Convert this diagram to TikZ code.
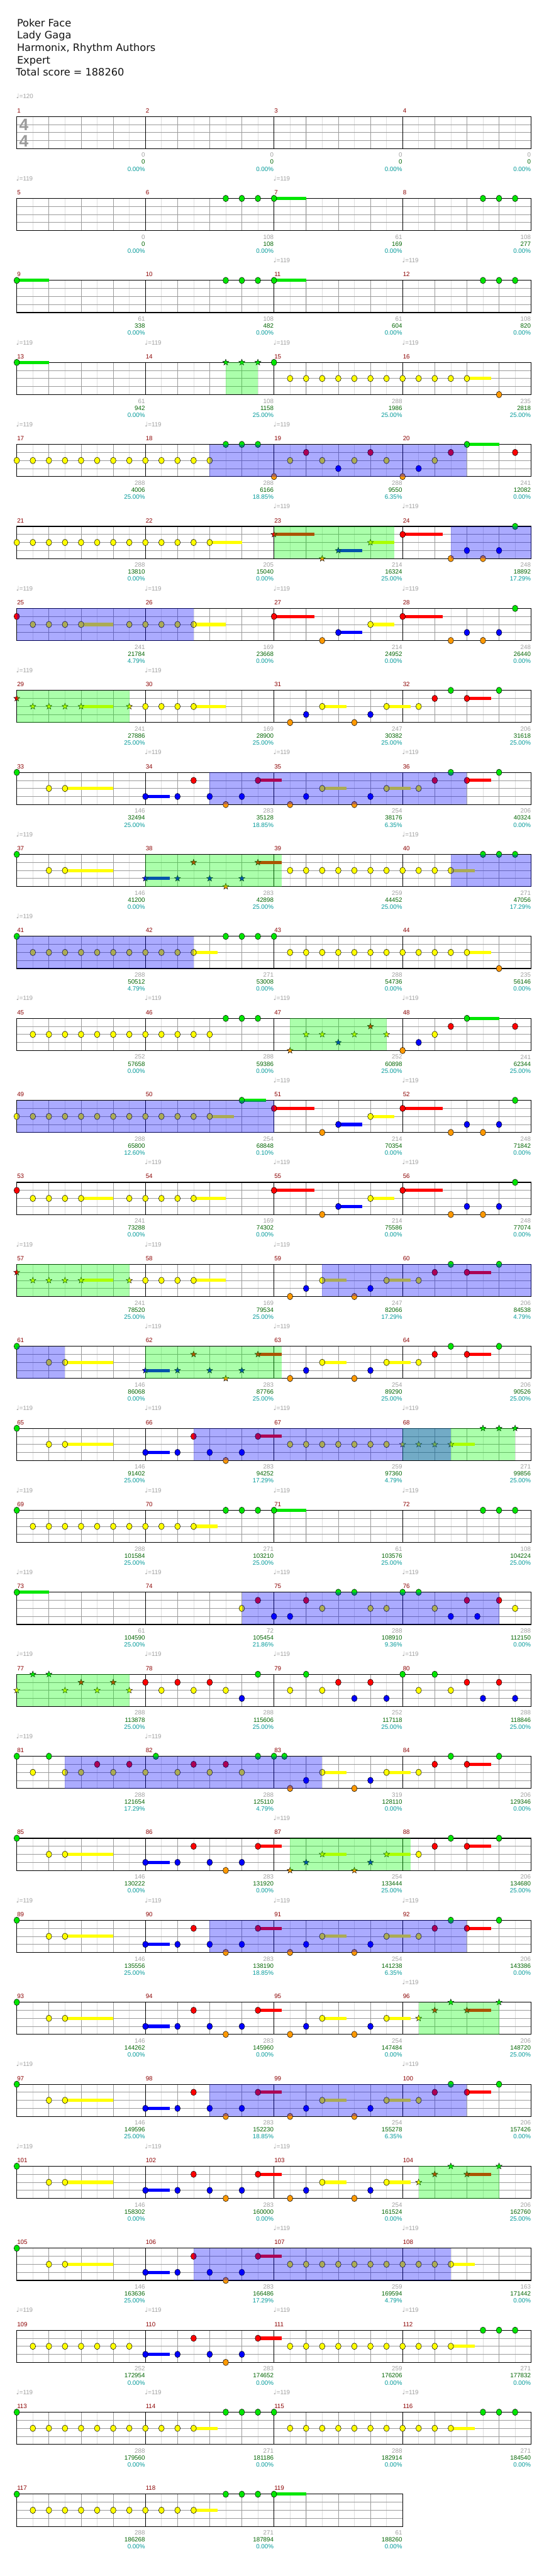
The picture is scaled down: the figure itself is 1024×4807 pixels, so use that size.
\documentclass[tikz,border=0pt]{standalone}
\usepackage{fontspec}
\setmainfont{DejaVu Sans}
\newfontfamily\sofont{Liberation Sans}
\usetikzlibrary{shapes.geometric}

% mau phim
\definecolor{gG}{RGB}{0,230,0}
\definecolor{gR}{RGB}{255,0,0}
\definecolor{gY}{RGB}{255,255,0}
\definecolor{gB}{RGB}{0,0,255}
\definecolor{gO}{RGB}{255,153,0}
\definecolor{luoinhat}{RGB}{222,222,222}
\definecolor{luoixam}{RGB}{155,155,155}
\definecolor{sonhipmau}{RGB}{139,0,0}
\definecolor{diemxam}{RGB}{160,160,160}
\definecolor{diemxanh}{RGB}{0,100,0}
\definecolor{phantram}{RGB}{0,153,153}
\definecolor{chuden}{RGB}{20,20,20}

\tikzset{
  gem/.style={draw=black, line width=0.6pt},
  sao/.style={star, star points=5, star point ratio=2.4, draw=black, line width=0.5pt, minimum size=12pt, inner sep=0pt},
  luoi8/.style={draw=luoinhat, line width=0.7pt},
  luoi4/.style={draw=luoixam, line width=0.9pt},
  vach/.style={draw=black, line width=0.7pt},
  vien/.style={draw=black, line width=1.3pt},
  chunho/.style={font=\sofont\fontsize{11.5}{12}\selectfont, inner sep=0pt},
  tieude/.style={font=\fontsize{19}{23}\selectfont, text=chuden, inner sep=0pt, anchor=base west},
}

% khuong nhac: #1 so o nhip, #2 so nhip dau
\newcommand{\khuong}[2]{%
  \pgfmathtruncatemacro\sotam{8*#1-1}
  \foreach \i in {1,...,\sotam} {\draw[luoi8] (30*\i,0) -- (30*\i,60);}
  \pgfmathtruncatemacro\sophach{4*#1-1}
  \foreach \i in {1,...,\sophach} {\draw[luoi4] (60*\i,0) -- (60*\i,60);}
  \foreach \l in {1,2,3} {\draw[luoi4] (0,15*\l) -- (240*#1,15*\l);}
  \pgfmathtruncatemacro\sovach{#1-1}
  \foreach \i in {1,...,\sovach} {\draw[vach] (240*\i,0) -- (240*\i,60);}
  \draw[vien] (0,0) rectangle (240*#1,60);
  \foreach \j in {1,...,#1} {
    \pgfmathtruncatemacro\so{#2+\j-1}
    \node[chunho, text=sonhipmau, anchor=west] (m\so) at ({240*(\j-1)+0.5},-11) {\so};
  }
}
% diem tung o nhip
\newcommand{\diem}[1]{%
  \foreach \j/\sa/\sb/\sc in {#1} {
    \node[chunho, text=diemxam, anchor=east] (d\j) at ({240*(\j+1)-0.5},72) {\sa};
    \node[chunho, text=diemxanh, anchor=east] (t\j) at ({240*(\j+1)-0.5},85) {\sb};
    \node[chunho, text=phantram, anchor=east] (p\j) at ({240*(\j+1)-0.5},98) {\sc\%};
  }
}
% toc do
\newcommand{\nhip}[2]{%
  \foreach \j in {#1} {
    \node[chunho, text=diemxam, anchor=west] (n\j) at ({240*\j-1},-37.5) {{\fontsize{12}{12}\selectfont\rmfamily ♩}=#2};
  }
}
% not, ngan keo, sao
\newcommand{\gem}[3]{\foreach \p in {#3} {\draw[gem, fill=#2] ({30*\p},{15*#1}) ellipse (5.2 and 6);}}
\newcommand{\keo}[3]{\foreach \sa/\sb in {#3} {\fill[#2] ({30*\sa},{15*#1-3}) rectangle ({30*\sb},{15*#1+3});}}
\newcommand{\saos}[3]{\foreach \p in {#3} {\node[sao, fill=#2] at ({30*\p},{15*#1}) {};}}
\newcommand{\nutG}[1]{\gem{0}{gG}{#1}}
\newcommand{\nutR}[1]{\gem{1}{gR}{#1}}
\newcommand{\nutY}[1]{\gem{2}{gY}{#1}}
\newcommand{\nutB}[1]{\gem{3}{gB}{#1}}
\newcommand{\nutO}[1]{\gem{4}{gO}{#1}}
\newcommand{\keoG}[1]{\keo{0}{gG}{#1}}
\newcommand{\keoR}[1]{\keo{1}{gR}{#1}}
\newcommand{\keoY}[1]{\keo{2}{gY}{#1}}
\newcommand{\keoB}[1]{\keo{3}{gB}{#1}}
\newcommand{\saoG}[1]{\saos{0}{gG}{#1}}
\newcommand{\saoR}[1]{\saos{1}{gR}{#1}}
\newcommand{\saoY}[1]{\saos{2}{gY}{#1}}
\newcommand{\saoB}[1]{\saos{3}{gB}{#1}}
\newcommand{\saoO}[1]{\saos{4}{gO}{#1}}
% vung star power (xanh duong) va overdrive (xanh la)
\newcommand{\vungSP}[2]{\fill[gB, opacity=0.33] ({30*#1},0) rectangle ({30*#2},60);}
\newcommand{\vungOD}[2]{\fill[green, opacity=0.33] ({30*#1},0) rectangle ({30*#2},60);}
% cac doan lap lai
\newcommand{\riffA}{\keoY{3/6}\nutG{0}\nutY{2,3}}
\newcommand{\riffM}{\keoB{8/9.5}\keoR{15/16.5}\nutB{8,10,12,14}\nutR{11,15}\nutO{13}}
\newcommand{\riffMsao}{\keoB{8/9.5}\keoR{15/16.5}\saoB{8,10,12,14}\saoR{11,15}\saoO{13}}
\newcommand{\riffB}{\keoY{19/20.5,23/24.5}\keoR{28/29.5}\nutO{17,21}\nutB{18,22}\nutY{19,23,25}\nutR{26,28}\nutG{27,30}}
\newcommand{\riffC}{\keoY{19/20.5,23/24.5}\keoR{28/29.5}\nutO{17,21}\nutB{18,22}\nutY{19,23}\saoY{25}\saoR{26,28}\saoG{27,30}}
\newcommand{\riffD}{\keoY{4/6,11/13}\nutR{0}\nutY{1,2,3,4,7,8,9,10,11}}
\newcommand{\riffE}{\keoR{16/18.5,24/26.5}\keoB{20/21.5}\keoY{22/23.5}\nutR{16,24}\nutO{19,27,29}\nutB{20,28,30}\nutY{22}\nutG{31}}
\newcommand{\riffF}{\keoY{4/6,11/13}\saoR{0}\saoY{1,2,3,4,7}\nutY{8,9,10,11}}
\newcommand{\riffY}{\keoY{27/28.5}\nutY{17,...,27}}

\begin{document}
\begin{tikzpicture}[x=1pt, y=-1pt]
\path[use as bounding box, fill=white] (0,0) rectangle (1024,4807);
% tieu de
\node[tieude] (ten) at (31.5,49.3) {Poker Face};
\node[tieude] (casi) at (31.5,72.4) {Lady Gaga};
\node[tieude] (tacgia) at (31.5,95.5) {Harmonix, Rhythm Authors};
\node[tieude] (capdo) at (31.5,118.6) {Expert};
\node[tieude] (tong) at (29.5,141.7) {Total score = 188260};

% hang 1
\begin{scope}[shift={(31.3,217.3)}]
\khuong{4}{1}
\node[font=\sofont\bfseries\fontsize{31}{31}\selectfont, text=luoixam, inner sep=0pt] (tu) at (13.2,16) {4};
\node[font=\sofont\bfseries\fontsize{31}{31}\selectfont, text=luoixam, inner sep=0pt] (mau) at (13.2,46) {4};
\nhip{0}{120}
\diem{0/0/0/0.00, 1/0/0/0.00, 2/0/0/0.00, 3/0/0/0.00}
\end{scope}
% hang 2
\begin{scope}[shift={(31.3,{217.3+153*1})}]
\khuong{4}{5}
\keoG{16/18}\nutG{13,14,15,16,29,30,31}
\nhip{0,2}{119}
\diem{0/0/0/0.00, 1/108/108/0.00, 2/61/169/0.00, 3/108/277/0.00}
\end{scope}
% hang 3
\begin{scope}[shift={(31.3,{217.3+153*2})}]
\khuong{4}{9}
\keoG{0/2,16/18}\nutG{0,13,14,15,16,29,30,31}
\nhip{2,3}{119}
\diem{0/61/338/0.00, 1/108/482/0.00, 2/61/604/0.00, 3/108/820/0.00}
\end{scope}
% hang 4
\begin{scope}[shift={(31.3,{217.3+153*3})}]
\khuong{4}{13}
\keoG{0/2}\keoY{28/29.5}
\nutG{0,16}\saoG{13,14,15}\nutY{17,...,28}\nutO{30}
\vungOD{13}{15}
\nhip{0,1,2,3}{119}
\diem{0/61/942/0.00, 1/108/1158/25.00, 2/288/1986/25.00, 3/235/2818/25.00}
\end{scope}
% hang 5
\begin{scope}[shift={(31.3,{217.3+153*4})}]
\khuong{4}{17}
\keoG{28/30}
\nutY{0,...,12}\nutG{13,14,15,28}\nutO{16,24}\nutY{17,19,21,23,26}\nutR{18,22,27,31}\nutB{20,25}
\vungSP{12}{28}
\nhip{0,1,2}{119}
\diem{0/288/4006/25.00, 1/288/6166/18.85, 2/288/9550/6.35, 3/241/12082/0.00}
\end{scope}
% hang 6
\begin{scope}[shift={(31.3,{217.3+153*5})}]
\khuong{4}{21}
\keoY{12/14,22/23.5}\keoR{16/18.5,24/26.5}\keoB{20/21.5}
\nutY{0,...,12}\saoR{16}\saoO{19}\saoB{20}\saoY{22}
\nutR{24}\nutO{27,29}\nutB{28,30}\nutG{31}
\vungOD{16}{23.5}\vungSP{27}{32}
\nhip{2,3}{119}
\diem{0/288/13810/0.00, 1/205/15040/0.00, 2/214/16324/25.00, 3/248/18892/17.29}
\end{scope}
% hang 7
\begin{scope}[shift={(31.3,{217.3+153*6})}]
\khuong{4}{25}
\riffD\riffE
\vungSP{0}{11}
\nhip{0,1,2,3}{119}
\diem{0/241/21784/4.79, 1/169/23668/0.00, 2/214/24952/0.00, 3/248/26440/0.00}
\end{scope}
% hang 8
\begin{scope}[shift={(31.3,{217.3+153*7})}]
\khuong{4}{29}
\riffF\riffB
\vungOD{0}{7}
\nhip{0,1}{119}
\diem{0/241/27886/25.00, 1/169/28900/25.00, 2/247/30382/25.00, 3/206/31618/25.00}
\end{scope}
% hang 9
\begin{scope}[shift={(31.3,{217.3+153*8})}]
\khuong{4}{33}
\riffA\riffM\riffB
\vungSP{12}{28}
\nhip{1,2,3}{119}
\diem{0/146/32494/25.00, 1/283/35128/18.85, 2/254/38176/6.35, 3/206/40324/0.00}
\end{scope}
% hang 10
\begin{scope}[shift={(31.3,{217.3+153*9})}]
\khuong{4}{37}
\riffA\riffMsao\riffY\nutG{29,30,31}
\vungOD{8}{16.5}\vungSP{27}{32}
\nhip{0,3}{119}
\diem{0/146/41200/0.00, 1/283/42898/25.00, 2/259/44452/25.00, 3/271/47056/17.29}
\end{scope}
% hang 11
\begin{scope}[shift={(31.3,{217.3+153*10})}]
\khuong{4}{41}
\keoY{11/12.5,28/29.5}
\nutG{0,13,14,15,16}\nutY{1,...,11}\nutY{17,...,28}\nutO{30}
\vungSP{0}{11}
\nhip{0}{119}
\diem{0/288/50512/4.79, 1/271/53008/0.00, 2/288/54736/0.00, 3/235/56146/0.00}
\end{scope}
% hang 12
\begin{scope}[shift={(31.3,{217.3+153*11})}]
\khuong{4}{45}
\keoG{28/30}
\nutY{1,...,12}\nutG{13,14,15}
\saoO{17}\saoY{18,19,21,23}\saoB{20}\saoR{22}
\nutO{24}\nutB{25}\nutY{26}\nutR{27,31}\nutG{28}
\vungOD{17}{23}
\nhip{0,1,2,3}{119}
\diem{0/252/57658/0.00, 1/288/59386/0.00, 2/252/60898/25.00, 3/241/62344/25.00}
\end{scope}
% hang 13
\begin{scope}[shift={(31.3,{217.3+153*12})}]
\khuong{4}{49}
\keoY{12/13.5}\keoG{14/15.5}
\nutY{0,...,12}\nutG{14}\riffE
\vungSP{0}{16}
\nhip{2,3}{119}
\diem{0/288/65800/12.60, 1/254/68848/0.10, 2/214/70354/0.00, 3/248/71842/0.00}
\end{scope}
% hang 14
\begin{scope}[shift={(31.3,{217.3+153*13})}]
\khuong{4}{53}
\riffD\riffE
\nhip{1,2,3}{119}
\diem{0/241/73288/0.00, 1/169/74302/0.00, 2/214/75586/0.00, 3/248/77074/0.00}
\end{scope}
% hang 15
\begin{scope}[shift={(31.3,{217.3+153*14})}]
\khuong{4}{57}
\riffF\riffB
\vungOD{0}{7}\vungSP{19}{32}
\nhip{0,1,2}{119}
\diem{0/241/78520/25.00, 1/169/79534/25.00, 2/247/82066/17.29, 3/206/84538/4.79}
\end{scope}
% hang 16
\begin{scope}[shift={(31.3,{217.3+153*15})}]
\khuong{4}{61}
\riffA\riffMsao\riffB
\vungSP{0}{3}\vungOD{8}{16.5}
\nhip{1,2}{119}
\diem{0/146/86068/0.00, 1/283/87766/25.00, 2/254/89290/25.00, 3/206/90526/25.00}
\end{scope}
% hang 17
\begin{scope}[shift={(31.3,{217.3+153*16})}]
\khuong{4}{65}
\riffA\riffM
\keoY{27/28.5}\nutY{17,...,23}\saoY{24,25,26,27}\saoG{29,30,31}
\vungOD{24}{31}\vungSP{11}{27}
\nhip{0,1,2,3}{119}
\diem{0/146/91402/25.00, 1/283/94252/17.29, 2/259/97360/4.79, 3/271/99856/25.00}
\end{scope}
% hang 18
\begin{scope}[shift={(31.3,{217.3+153*17})}]
\khuong{4}{69}
\keoY{11/12.5}\keoG{16/18}
\nutG{0,13,14,15,16,29,30,31}\nutY{1,...,11}
\nhip{0,1,2,3}{119}
\diem{0/288/101584/25.00, 1/271/103210/25.00, 2/61/103576/25.00, 3/108/104224/25.00}
\end{scope}
% hang 19
\begin{scope}[shift={(31.3,{217.3+153*18})}]
\khuong{4}{73}
\keoG{0/2}
\nutG{0,20,21,24,25}\nutY{14,19,22,23,26,31}\nutR{15,18,28,30}\nutB{16,17,27,28.65}
\vungSP{14}{30}
\nhip{0,1,2,3}{119}
\diem{0/61/104590/25.00, 1/72/105454/21.86, 2/288/108910/9.36, 3/288/112150/0.00}
\end{scope}
% hang 20
\begin{scope}[shift={(31.3,{217.3+153*19})}]
\khuong{4}{77}
\saoG{1,2}\saoR{4,6}\saoY{0,3,5,7}
\nutR{8,10,12,20,22,28,30}\nutY{9,11,13,17,19,25,27}\nutB{14,21,23,29,31}\nutG{15,18,24,26}
\vungOD{0}{7}
\nhip{0,1,2,3}{119}
\diem{0/288/113878/25.00, 1/288/115606/25.00, 2/252/117118/25.00, 3/288/118846/25.00}
\end{scope}
% hang 21
\begin{scope}[shift={(31.3,{217.3+153*20})}]
\khuong{4}{81}
\nutG{0,2,8.65,15,16,16.65}\nutY{1,3,4,6,8,10,12,14}\nutR{5,7,11,13}\riffB
\vungSP{3}{19}
\nhip{0,1}{119}
\diem{0/288/121654/17.29, 1/288/125110/4.79, 2/319/128110/0.00, 3/206/129346/0.00}
\end{scope}
% hang 22
\begin{scope}[shift={(31.3,{217.3+153*21})}]
\khuong{4}{85}
\riffA\riffM
\keoY{19/20.5,23/24.5}\keoR{28/29.5}
\saoO{17,21}\saoB{18,22}\saoY{19,23}\nutY{25}\nutR{26,28}\nutG{27,30}
\vungOD{17}{24.5}
\nhip{2}{119}
\diem{0/146/130222/0.00, 1/283/131920/0.00, 2/254/133444/25.00, 3/206/134680/25.00}
\end{scope}
% hang 23
\begin{scope}[shift={(31.3,{217.3+153*22})}]
\khuong{4}{89}
\riffA\riffM\riffB
\vungSP{12}{28}
\nhip{0,1,2,3}{119}
\diem{0/146/135556/25.00, 1/283/138190/18.85, 2/254/141238/6.35, 3/206/143386/0.00}
\end{scope}
% hang 24
\begin{scope}[shift={(31.3,{217.3+153*23})}]
\khuong{4}{93}
\riffA\riffM\riffC
\vungOD{25}{30}
\nhip{3}{119}
\diem{0/146/144262/0.00, 1/283/145960/0.00, 2/254/147484/0.00, 3/206/148720/25.00}
\end{scope}
% hang 25
\begin{scope}[shift={(31.3,{217.3+153*24})}]
\khuong{4}{97}
\riffA\riffM\riffB
\vungSP{12}{28}
\nhip{0,3}{119}
\diem{0/146/149596/25.00, 1/283/152230/18.85, 2/254/155278/6.35, 3/206/157426/0.00}
\end{scope}
% hang 26
\begin{scope}[shift={(31.3,{217.3+153*25})}]
\khuong{4}{101}
\riffA\riffM\riffC
\vungOD{25}{30}
\nhip{0,1,2}{119}
\diem{0/146/158302/0.00, 1/283/160000/0.00, 2/254/161524/0.00, 3/206/162760/25.00}
\end{scope}
% hang 27
\begin{scope}[shift={(31.3,{217.3+153*26})}]
\khuong{4}{105}
\riffA\riffM\riffY
\vungSP{11}{27}
\nhip{2,3}{119}
\diem{0/146/163636/25.00, 1/283/166486/17.29, 2/259/169594/4.79, 3/163/171442/0.00}
\end{scope}
% hang 28
\begin{scope}[shift={(31.3,{217.3+153*27})}]
\khuong{4}{109}
\nutY{1,...,7}\riffM\riffY\nutG{29,30,31}
\nhip{0,1,2,3}{119}
\diem{0/252/172954/0.00, 1/283/174652/0.00, 2/259/176206/0.00, 3/271/177832/0.00}
\end{scope}
% hang 29
\begin{scope}[shift={(31.3,{217.3+153*28})}]
\khuong{4}{113}
\keoY{11/12.5}
\nutG{0,13,14,15,16}\nutY{1,...,11}\riffY\nutG{29,30,31}
\nhip{0,1,2,3}{119}
\diem{0/288/179560/0.00, 1/271/181186/0.00, 2/288/182914/0.00, 3/271/184540/0.00}
\end{scope}
% hang 30
\begin{scope}[shift={(31.3,{217.3+153*29})}]
\khuong{3}{117}
\keoY{11/12.5}\keoG{16/18}
\nutG{0,13,14,15,16}\nutY{1,...,11}
\diem{0/288/186268/0.00, 1/271/187894/0.00, 2/61/188260/0.00}
\end{scope}
\end{tikzpicture}
\end{document}
